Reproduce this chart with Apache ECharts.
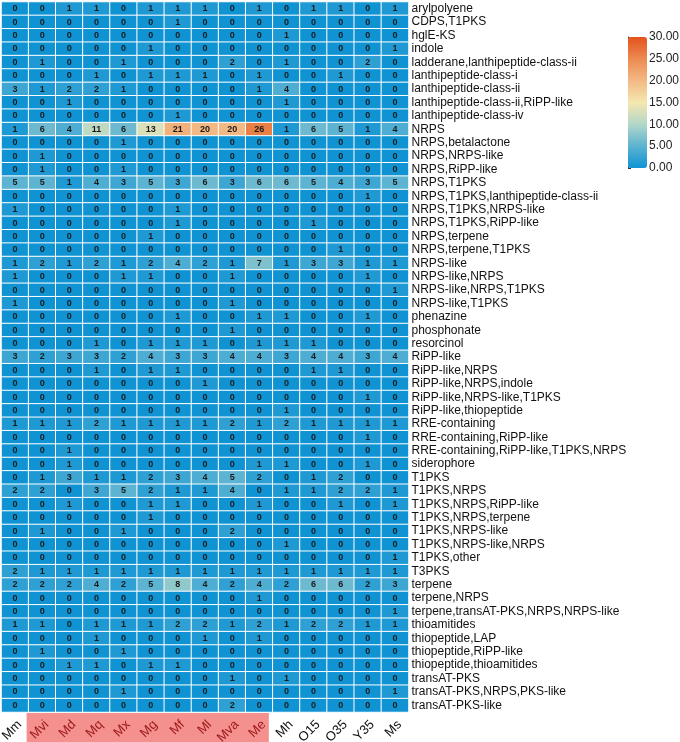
<!DOCTYPE html>
<html>
<head>
<meta charset="utf-8">
<script src="https://cdn.jsdelivr.net/npm/echarts@6/dist/echarts.min.js"></script>
<style>
html,body{margin:0;padding:0;background:#fff;}
#chart{width:680px;height:742px;}
</style>
</head>
<body>
<div id="chart"></div>
<script>
var samples = ['Mm','Mvi','Md','Mq','Mx','Mg','Mf','Ml','Mva','Me','Mh','O15','O35','Y35','Ms'];
var highlighted = ['Mvi','Md','Mq','Mx','Mg','Mf','Ml','Mva','Me'];
var clusters = [
'arylpolyene','CDPS,T1PKS','hglE-KS','indole','ladderane,lanthipeptide-class-ii',
'lanthipeptide-class-i','lanthipeptide-class-ii','lanthipeptide-class-ii,RiPP-like','lanthipeptide-class-iv',
'NRPS','NRPS,betalactone','NRPS,NRPS-like','NRPS,RiPP-like','NRPS,T1PKS',
'NRPS,T1PKS,lanthipeptide-class-ii','NRPS,T1PKS,NRPS-like','NRPS,T1PKS,RiPP-like','NRPS,terpene',
'NRPS,terpene,T1PKS','NRPS-like','NRPS-like,NRPS','NRPS-like,NRPS,T1PKS','NRPS-like,T1PKS',
'phenazine','phosphonate','resorcinol','RiPP-like','RiPP-like,NRPS','RiPP-like,NRPS,indole',
'RiPP-like,NRPS-like,T1PKS','RiPP-like,thiopeptide','RRE-containing','RRE-containing,RiPP-like',
'RRE-containing,RiPP-like,T1PKS,NRPS','siderophore','T1PKS','T1PKS,NRPS','T1PKS,NRPS,RiPP-like',
'T1PKS,NRPS,terpene','T1PKS,NRPS-like','T1PKS,NRPS-like,NRPS','T1PKS,other','T3PKS','terpene',
'terpene,NRPS','terpene,transAT-PKS,NRPS,NRPS-like','thioamitides','thiopeptide,LAP',
'thiopeptide,RiPP-like','thiopeptide,thioamitides','transAT-PKS','transAT-PKS,NRPS,PKS-like','transAT-PKS-like'
];
// counts[row] follows the order of samples
var counts = [
[0,0,1,1,0,1,1,1,0,1,0,1,1,0,1],
[0,0,0,0,0,0,1,0,0,0,0,0,0,0,0],
[0,0,0,0,0,0,0,0,0,0,1,0,0,0,0],
[0,0,0,0,0,1,0,0,0,0,0,0,0,0,1],
[0,1,0,0,1,0,0,0,2,0,1,0,0,2,0],
[0,0,0,1,0,1,1,1,0,1,0,0,1,0,0],
[3,1,2,2,1,0,0,0,0,1,4,0,0,0,0],
[0,0,1,0,0,0,0,0,0,0,1,0,0,0,0],
[0,0,0,0,0,0,1,0,0,0,0,0,0,0,0],
[1,6,4,11,6,13,21,20,20,26,1,6,5,1,4],
[0,0,0,0,1,0,0,0,0,0,0,0,0,0,0],
[0,1,0,0,0,0,0,0,0,0,0,0,0,0,0],
[0,1,0,0,1,0,0,0,0,0,0,0,0,0,0],
[5,5,1,4,3,5,3,6,3,6,6,5,4,3,5],
[0,0,0,0,0,0,0,0,0,0,0,0,0,1,0],
[1,0,0,0,0,0,1,0,0,0,0,0,0,0,0],
[0,0,0,0,0,0,1,0,0,0,0,1,0,0,0],
[0,0,0,0,0,1,0,0,0,0,0,0,0,0,0],
[0,0,0,0,0,0,0,0,0,0,0,0,1,0,0],
[1,2,1,2,1,2,4,2,1,7,1,3,3,1,1],
[1,0,0,0,1,1,0,0,1,0,0,0,0,1,0],
[0,0,0,0,0,0,0,0,0,0,0,0,0,0,1],
[1,0,0,0,0,0,0,0,1,0,0,0,0,0,0],
[0,0,0,0,0,0,1,0,0,1,1,0,0,1,0],
[0,0,0,0,0,0,0,0,1,0,0,0,0,0,0],
[0,0,0,1,0,1,1,1,0,1,1,1,0,0,0],
[3,2,3,3,2,4,3,3,4,4,3,4,4,3,4],
[0,0,0,1,0,1,1,0,0,0,0,1,1,0,0],
[0,0,0,0,0,0,0,1,0,0,0,0,0,0,0],
[0,0,0,0,0,0,0,0,0,0,0,0,0,1,0],
[0,0,0,0,0,0,0,0,0,0,1,0,0,0,0],
[1,1,1,2,1,1,1,1,2,1,2,1,1,1,1],
[0,0,0,0,0,0,0,0,0,0,0,0,0,1,0],
[0,0,1,0,0,0,0,0,0,0,0,0,0,0,0],
[0,0,1,0,0,0,0,0,0,1,1,0,0,1,0],
[0,1,3,1,1,2,3,4,5,2,0,1,2,0,0],
[2,2,0,3,5,2,1,1,4,0,1,1,2,2,1],
[0,0,1,0,0,1,1,0,0,1,0,0,1,0,1],
[0,0,0,0,0,1,0,0,0,0,0,0,0,0,0],
[0,1,0,0,1,0,0,0,2,0,0,0,0,0,0],
[0,0,0,0,0,0,0,0,0,0,1,0,0,0,0],
[0,0,0,0,0,0,0,0,0,0,0,0,0,0,1],
[2,1,1,1,1,1,1,1,1,1,1,1,1,1,1],
[2,2,2,4,2,5,8,4,2,4,2,6,6,2,3],
[0,0,0,0,0,0,0,0,0,1,0,0,0,0,0],
[0,0,0,0,0,0,0,0,0,0,0,0,0,0,1],
[1,1,0,1,1,1,2,2,1,2,1,2,2,1,1],
[0,0,0,1,0,0,0,1,0,1,0,0,0,0,0],
[0,1,0,0,1,0,0,0,0,0,0,0,0,0,0],
[0,0,1,1,0,1,1,0,0,0,0,0,0,0,0],
[0,0,0,0,0,0,0,0,1,0,1,0,0,0,0],
[0,0,0,0,1,0,0,0,0,0,0,0,0,0,1],
[0,0,0,0,0,0,0,0,2,0,0,0,0,0,0]
];
var scaleMin = 0, scaleMax = 30, scaleStep = 5;
var palette = ['#0f93d3','#5cb3d2','#b2d7c8','#f5e7b0','#f3b985','#ec8a50','#e4521d'];

var FONT = 'Liberation Sans, Arial, sans-serif';
var data = [];
counts.forEach(function(row, r){
  row.forEach(function(v, c){ data.push([c, r, v]); });
});

var chart = echarts.init(document.getElementById('chart'));
var option = {
  backgroundColor: '#fff',
  animation: false,
  grid: [
    {left: 1.5, top: 2, width: 407, height: 710, outerBoundsMode: 'none', containLabel: false},
    {left: 628, top: 37, width: 19, height: 131, outerBoundsMode: 'none', containLabel: false}
  ],
  xAxis: [
    {type: 'category', data: samples, gridIndex: 0, z: 5,
     axisLine: {show: false}, axisTick: {show: false}, splitLine: {show: false},
     axisLabel: {rotate: 45, fontSize: 13, fontFamily: FONT, margin: 6, interval: 0, verticalAlign: 'top',
       color: function(v){ return highlighted.indexOf(v) >= 0 ? '#9c1b1b' : '#111'; }}},
    {type: 'value', gridIndex: 1, show: false}
  ],
  yAxis: [
    {type: 'category', data: clusters, inverse: true, position: 'right', gridIndex: 0,
     axisLine: {show: false}, axisTick: {show: false}, splitLine: {show: false},
     axisLabel: {fontSize: 12, fontFamily: FONT, color: '#111', margin: 3, interval: 0}},
    {type: 'value', gridIndex: 1, position: 'right', min: scaleMin, max: scaleMax, interval: scaleStep,
     axisLine: {show: true, lineStyle: {color: '#333', width: 1}},
     axisTick: {show: true, length: 3, lineStyle: {color: '#333'}},
     splitLine: {show: false},
     axisLabel: {fontSize: 12, fontFamily: FONT, color: '#222', margin: 2,
       formatter: function(v){ return v.toFixed(2); }}}
  ],
  visualMap: {
    type: 'continuous', min: scaleMin, max: scaleMax, calculable: false, seriesIndex: 0,
    left: 628, top: 37, itemWidth: 19, itemHeight: 131, padding: 0,
    text: null, showLabel: false, hoverLink: false,
    inRange: {color: palette}
  },
  series: [{
    type: 'heatmap', xAxisIndex: 0, yAxisIndex: 0, data: data,
    itemStyle: {borderColor: '#ffffff', borderWidth: 1},
    label: {show: true, fontSize: 9, fontWeight: 'bold', fontFamily: FONT, color: '#1a1a1a',
      formatter: function(p){ return p.value[2]; }},
    emphasis: {disabled: true}
  }]
};
chart.setOption(option);

var x1 = chart.convertToPixel({xAxisIndex: 0}, highlighted[0]);
var x2 = chart.convertToPixel({xAxisIndex: 0}, highlighted[highlighted.length - 1]);
var colW = chart.convertToPixel({xAxisIndex: 0}, samples[1]) - chart.convertToPixel({xAxisIndex: 0}, samples[0]);
var yLast = chart.convertToPixel({yAxisIndex: 0}, clusters[clusters.length - 1]);
var yPrev = chart.convertToPixel({yAxisIndex: 0}, clusters[clusters.length - 2]);
var gridBottom = yLast + (yLast - yPrev) / 2;
chart.setOption({
  graphic: [{
    type: 'rect', z: -1,
    shape: {x: x1 - colW / 2 - 2, y: gridBottom + 1, width: (x2 - x1) + colW - 2, height: 742 - gridBottom},
    style: {fill: '#f4908e'}
  }]
});
</script>
</body>
</html>
